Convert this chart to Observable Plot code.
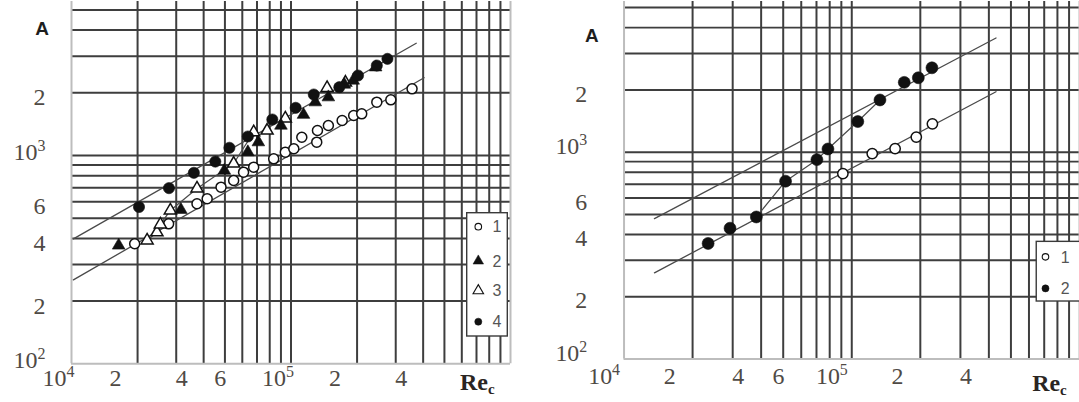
<!DOCTYPE html>
<html>
<head>
<meta charset="utf-8">
<script src="https://cdn.jsdelivr.net/npm/d3@7"></script>
<script src="https://cdn.jsdelivr.net/npm/@observablehq/plot@0.6"></script>
<style>
  html, body { margin: 0; padding: 0; background: #fff; overflow: hidden; }
  #wrap { position: relative; width: 1079px; height: 402px; overflow: hidden; }
  #left { position: absolute; left: 0; top: 0; }
  #right { position: absolute; left: 540px; top: 0; }
</style>
</head>
<body>
<div id="wrap"><div id="left"></div><div id="right"></div></div>
<script>
// ---- Left panel: A vs Re_c, four series ----
const leftSeries1 = [[1.94e4,377],[2.77e4,470],[3.73e4,587],[4.15e4,620],[4.80e4,705],[5.48e4,759],[6.08e4,832],[6.76e4,879],[8.34e4,964],[9.42e4,1038],[1.03e5,1077],[1.12e5,1224],[1.31e5,1159],[1.32e5,1318],[1.48e5,1393],[1.71e5,1472],[1.93e5,1556],[2.10e5,1585],[2.46e5,1803],[2.85e5,1850],[3.56e5,2090]];
const leftSeries2 = [[1.64e4,370],[3.15e4,549],[4.97e4,847],[6.36e4,1038],[7.10e4,1159],[9.0e4,1393],[1.14e5,1570],[1.29e5,1803],[1.48e5,1905],[1.75e5,2192],[1.92e5,2292],[2.43e5,2653]];
const leftSeries3 = [[2.21e4,391],[2.45e4,428],[2.54e4,467],[2.82e4,545],[3.73e4,695],[5.48e4,915],[6.76e4,1294],[7.78e4,1318],[9.42e4,1506],[1.46e5,2110],[1.77e5,2240]];
const leftSeries4 = [[2.03e4,566],[2.78e4,697],[3.61e4,826],[4.52e4,935],[5.24e4,1089],[6.36e4,1234],[8.22e4,1489],[1.05e5,1694],[1.27e5,1963],[1.66e5,2128],[2.02e5,2422],[2.46e5,2704],[2.75e5,2911]];
const leftFitUpper = [[1.02e4,398],[3.72e5,3459]];
const leftFitLower = [[1.02e4,253],[4.04e5,2361]];

// ---- Right panel: A vs Re_c, two series ----
const rightSeries1 = [[9.14e4,788],[1.23e5,984],[1.55e5,1040],[1.92e5,1183],[2.26e5,1371]];
const rightSeries2 = [[2.34e4,362],[2.92e4,429],[3.81e4,486],[5.12e4,724],[7.03e4,920],[7.86e4,1036],[1.063e5,1406],[1.33e5,1788],[1.70e5,2175],[1.96e5,2289],[2.25e5,2557]];
const rightFitUpper = [[1.36e4,477],[4.30e5,3564]];
const rightFitLower = [[1.36e4,261],[4.30e5,1960]];

// ---- Axis ticks: powers of ten and in-decade multipliers ----
const xDecadeTicks = [1e4, 1e5];
const xDecadeLabels = ["10⁴", "10⁵"];
const xMultTicks = [2e4, 4e4, 6e4, 2e5, 4e5];
const xMultLabels = ["2", "4", "6", "2", "4"];
const yDecadeTicks = [100, 1000];
const yDecadeLabels = ["10²", "10³"];
const yMultTicks = [200, 400, 600, 2000];
const yMultLabels = ["2", "4", "6", "2"];
const mantissas = [2, 3, 4, 5, 6, 7, 8, 9];
const gridXValues = [1e4, 1e5].flatMap(p => mantissas.map(m => m * p)).concat([1e5]);
const gridYValues = [100, 1000].flatMap(p => mantissas.map(m => m * p)).concat([1000]).filter(v => v <= 5000);

const superDigits = {"²": "2", "³": "3", "⁴": "4", "⁵": "5"};

const serif = "'Liberation Serif', 'Times New Roman', serif";
const sans = "'Liberation Sans', Arial, sans-serif";
const gridColor = "#3e3e3e";
const borderColor = "#bdbdbd";
const labelColor = "#4f4a45";
const ink = "#111";
const tickFont = 24;

const px = d => d[0], py = d => d[1];

function labelsX(values, labels, dx, dy) {
  return Plot.text(values, {x: d => d, text: (d, i) => labels[i], frameAnchor: "bottom", dx, dy,
    fontSize: tickFont, fontFamily: serif, fill: labelColor});
}
function labelsY(values, labels, pad, dy) {
  return Plot.text(values, {y: d => d, text: (d, i) => labels[i], frameAnchor: "left", textAnchor: "end",
    dx: -pad, dy, fontSize: tickFont, fontFamily: serif, fill: labelColor});
}

function panel(cfg) {
  const marks = [
    Plot.gridX(gridXValues, {stroke: gridColor, strokeOpacity: 1, strokeWidth: 2}),
    Plot.gridY(gridYValues, {stroke: gridColor, strokeOpacity: 1, strokeWidth: 2}),
    Plot.ruleX([1e4, 1e6], {stroke: borderColor, strokeWidth: 2}),
    Plot.ruleY([100], {stroke: borderColor, strokeWidth: 2}),
    // tick labels sit a little left of their grid lines
    labelsX(xDecadeTicks, xDecadeLabels, cfg.xDecadeDx, cfg.xDy),
    labelsX(xMultTicks, xMultLabels, cfg.xMultDx, cfg.xDy),
    labelsY(yDecadeTicks, yDecadeLabels, cfg.yPad, cfg.yDecadeDy),
    labelsY(yMultTicks, yMultLabels, cfg.yPad, cfg.yMultDy),
    ...cfg.fits.map(f => Plot.line(f, {x: px, y: py, stroke: "#4a4a4a", strokeWidth: 1.3})),
    ...cfg.paths.map(p => Plot.line(p, {x: px, y: py, stroke: "#4a4a4a", strokeWidth: 1.2})),
    ...cfg.series.map(s => Plot.dot(s.data, {x: px, y: py, symbol: s.symbol, r: s.r,
      fill: s.filled ? ink : "white", stroke: ink, strokeWidth: s.filled ? 0.6 : 1.5}))
  ];
  const svg = Plot.plot({
    width: cfg.width, height: 402,
    marginLeft: cfg.ml, marginRight: cfg.mr, marginTop: cfg.mt, marginBottom: cfg.mb,
    x: {type: "log", domain: [1e4, 1e6], axis: null},
    y: {type: "log", domain: [100, cfg.yTop], axis: null},
    style: {background: "white", fontFamily: serif, overflow: "visible"},
    marks
  });
  const s = d3.select(svg);
  // powers of ten: raised exponent
  s.selectAll("text").each(function () {
    const m = /^10([²³⁴⁵])$/.exec(this.textContent);
    if (!m) return;
    const node = d3.select(this);
    node.text("10");
    node.append("tspan").attr("font-size", 16).attr("dy", -9).text(superDigits[m[1]]);
  });
  // ordinate title
  s.append("text").attr("x", cfg.aPos[0]).attr("y", cfg.aPos[1]).attr("text-anchor", "middle")
    .attr("font-family", sans).attr("font-weight", "bold").attr("font-size", 19).attr("fill", "#1e1e1e").text("A");
  // abscissa title Re_c
  const t = s.append("text").attr("x", cfg.rePos[0]).attr("y", cfg.rePos[1]).attr("text-anchor", "start")
    .attr("font-family", serif).attr("font-weight", "bold").attr("font-size", 24).attr("fill", "#2a2522");
  t.append("tspan").text("Re");
  t.append("tspan").attr("font-size", 15).attr("dy", 4).text("c");
  // legend box
  const lg = s.append("g");
  lg.append("rect").attr("x", cfg.legend.x).attr("y", cfg.legend.y).attr("width", cfg.legend.w).attr("height", cfg.legend.h)
    .attr("fill", "white").attr("stroke", "#3a3a3a").attr("stroke-width", 1.4);
  cfg.legend.items.forEach(it => {
    const sym = d3.symbol(it.symbol === "triangle" ? d3.symbolTriangle : d3.symbolCircle, it.size)();
    lg.append("path").attr("d", sym).attr("transform", `translate(${cfg.legend.symX},${it.y})`)
      .attr("fill", it.filled ? ink : "white").attr("stroke", ink).attr("stroke-width", it.filled ? 0.5 : 1.1);
    lg.append("text").attr("x", cfg.legend.textX).attr("y", it.y).attr("dy", "0.36em").attr("text-anchor", "middle")
      .attr("font-family", sans).attr("font-size", 16).attr("fill", "#555").text(it.label);
  });
  return svg;
}

document.getElementById("left").appendChild(panel({
  width: 540, ml: 71, mr: 30, mt: 1, mb: 38.7, yTop: 5488,
  xDy: 22, xDecadeDx: -13, xMultDx: -22, yPad: 26, yDecadeDy: -3, yMultDy: 5,
  fits: [leftFitUpper, leftFitLower],
  paths: [leftSeries3.slice(0, 7)],
  series: [
    {data: leftSeries1, symbol: "circle", r: 5, filled: false},
    {data: leftSeries3, symbol: "triangle", r: 4.5, filled: false},
    {data: leftSeries2, symbol: "triangle", r: 4.7, filled: true},
    {data: leftSeries4, symbol: "circle", r: 5.6, filled: true}
  ],
  aPos: [42, 35], rePos: [460, 390],
  legend: {x: 466.7, y: 212.7, w: 40.6, h: 123.3, symX: 478.3, textX: 497,
    items: [
      {symbol: "circle", filled: false, size: 34, y: 226.7, label: "1"},
      {symbol: "triangle", filled: true, size: 48, y: 261, label: "2"},
      {symbol: "triangle", filled: false, size: 48, y: 290.7, label: "3"},
      {symbol: "circle", filled: true, size: 40, y: 321.7, label: "4"}
    ]}
}));

document.getElementById("right").appendChild(panel({
  width: 542, ml: 84, mr: 0, mt: 1, mb: 41.5, yTop: 5351,
  xDy: 25, xDecadeDx: -20, xMultDx: -23, yPad: 37, yDecadeDy: -6, yMultDy: 4,
  fits: [rightFitUpper, rightFitLower],
  paths: [rightSeries2.slice(2, 8)],
  series: [
    {data: rightSeries1, symbol: "circle", r: 5.2, filled: false},
    {data: rightSeries2, symbol: "circle", r: 6, filled: true}
  ],
  aPos: [52, 42], rePos: [495, 393],
  legend: {x: 499, y: 242.7, w: 50, h: 60, symX: 508.3, textX: 528,
    items: [
      {symbol: "circle", filled: false, size: 34, y: 258.3, label: "1"},
      {symbol: "circle", filled: true, size: 40, y: 290, label: "2"}
    ]}
}));
</script>
</body>
</html>
